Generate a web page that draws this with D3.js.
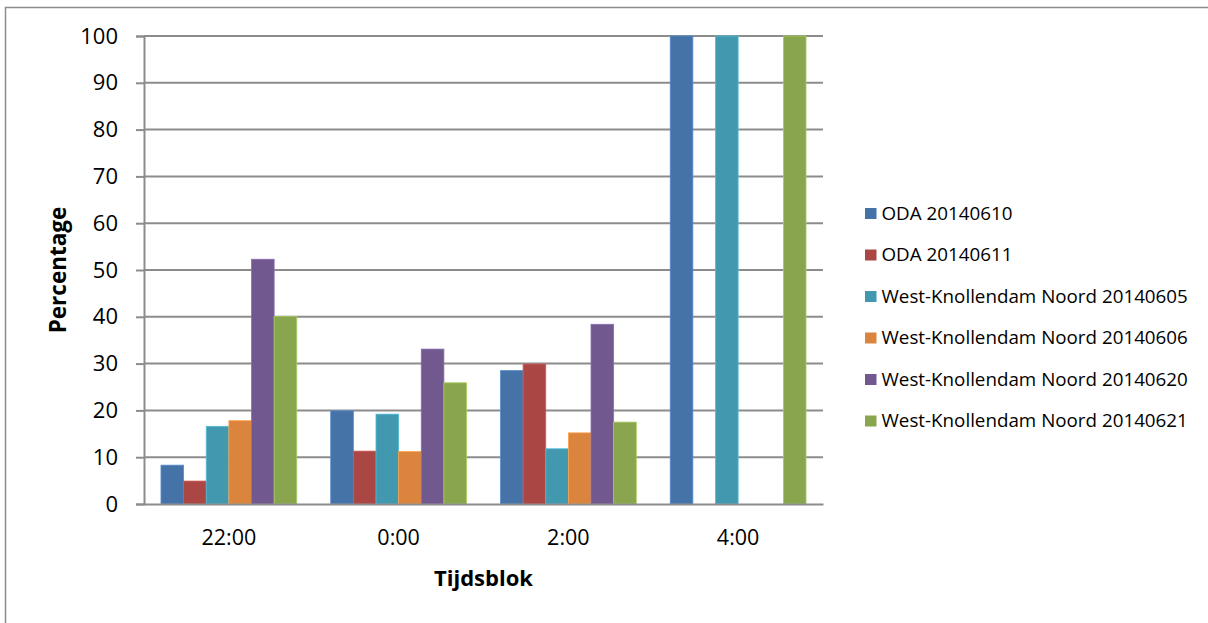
<!DOCTYPE html>
<html><head><meta charset="utf-8">
<script src="https://cdn.jsdelivr.net/npm/d3@7"></script>
<style>body{margin:0;background:#fff}svg{display:block}text{font-family:"Open Sans",sans-serif;fill:#000}</style>
</head><body>
<script>
const categories = ["22:00","0:00","2:00","4:00"];
const seriesNames = ["ODA 20140610","ODA 20140611","West-Knollendam Noord 20140605","West-Knollendam Noord 20140606","West-Knollendam Noord 20140620","West-Knollendam Noord 20140621"];
const oda0610 = [8.3, 19.9, 28.5, 100];
const oda0611 = [4.9, 11.3, 29.9, 0];
const wkn0605 = [16.6, 19.2, 11.8, 100];
const wkn0606 = [17.8, 11.2, 15.2, 0];
const wkn0620 = [52.3, 33.1, 38.4, 0];
const wkn0621 = [40.1, 25.9, 17.5, 100];
const yTicks = [0,10,20,30,40,50,60,70,80,90,100];
const colors = ["#4572a7","#aa4643","#4198af","#db843d","#71588f","#89a54e"];
const seriesValues = [oda0610, oda0611, wkn0605, wkn0606, wkn0620, wkn0621];

(function(){
const W = 1208, H = 623;
const FONT = '"Open Sans",sans-serif';
const svg = d3.select("body").append("svg").attr("width", W).attr("height", H);

// outer frame
svg.append("path").attr("d", "M5.5,623 V7.5 H1208").attr("fill","none").attr("stroke","#8c8c8c").attr("stroke-width",1.5);

const pL = 144, pR = 823, pT = 36, pB = 504;
const x0 = d3.scaleBand().domain(categories).range([pL, pR]).padding(0);
const x1 = d3.scaleBand().domain(d3.range(seriesNames.length)).range([x0.bandwidth()*0.1, x0.bandwidth()*0.9]).padding(0);
const y = d3.scaleLinear().domain([0,100]).range([pB, pT]);

// gridlines
svg.append("g").selectAll("line").data(yTicks.filter(d=>d>0)).join("line")
  .attr("x1", pL).attr("x2", pR).attr("y1", d=>y(d)).attr("y2", d=>y(d))
  .attr("stroke","#8c8c8c").attr("stroke-width",2);

// bars
const groups = svg.append("g").selectAll("g").data(categories).join("g")
  .attr("transform", d=>`translate(${x0(d)},0)`);
groups.selectAll("rect").data((c,i)=>seriesValues.map((s,k)=>({k, v:s[i]})).filter(d=>d.v>0)).join("rect")
  .attr("x", d=>x1(d.k)).attr("width", x1.bandwidth())
  .attr("y", d=>y(d.v)).attr("height", d=>pB - y(d.v))
  .attr("fill", d=>colors[d.k])
  .attr("stroke", d=>d3.color(colors[d.k]).brighter(0.6)).attr("stroke-width",0.8);

// y axis
const yAxis = d3.axisLeft(y).tickValues(yTicks).tickSize(8).tickPadding(18).tickFormat(d3.format("d"));
const gy = svg.append("g").attr("transform",`translate(${pL},0)`).call(yAxis);
gy.select(".domain").attr("stroke","#8c8c8c").attr("stroke-width",2);
gy.selectAll(".tick line").attr("stroke","#8c8c8c").attr("stroke-width",2);
gy.selectAll(".tick text").attr("font-size",22).attr("font-family",FONT).attr("fill","#000");

// x axis
const xAxis = d3.axisBottom(x0).tickSize(0).tickPadding(41);
const gx = svg.append("g").attr("transform",`translate(0,${pB})`).call(xAxis);
gx.select(".domain").attr("stroke","#8c8c8c").attr("stroke-width",2);
gx.selectAll(".tick text").attr("font-size",21.5).attr("font-family",FONT).attr("fill","#000").attr("dy",0);

// axis titles
svg.append("text").attr("x", (pL+pR)/2).attr("y", 586).attr("text-anchor","middle")
  .attr("font-size",22).attr("font-weight","bold").text("Tijdsblok");
svg.append("text").attr("transform",`translate(66,270) rotate(-90)`).attr("text-anchor","middle")
  .attr("font-size",22.5).attr("font-weight","bold").text("Percentage");

// legend
const lg = svg.append("g").selectAll("g").data(seriesNames).join("g")
  .attr("transform",(d,i)=>`translate(865,${213 + i*41.5})`);
lg.append("rect").attr("x",0).attr("y",-5).attr("width",11.5).attr("height",11).attr("fill",(d,i)=>colors[i]);
lg.append("text").attr("x",16.5).attr("y",0).attr("dy","0.35em").attr("font-size",18.8).text(d=>d);
})();
</script>
</body></html>
